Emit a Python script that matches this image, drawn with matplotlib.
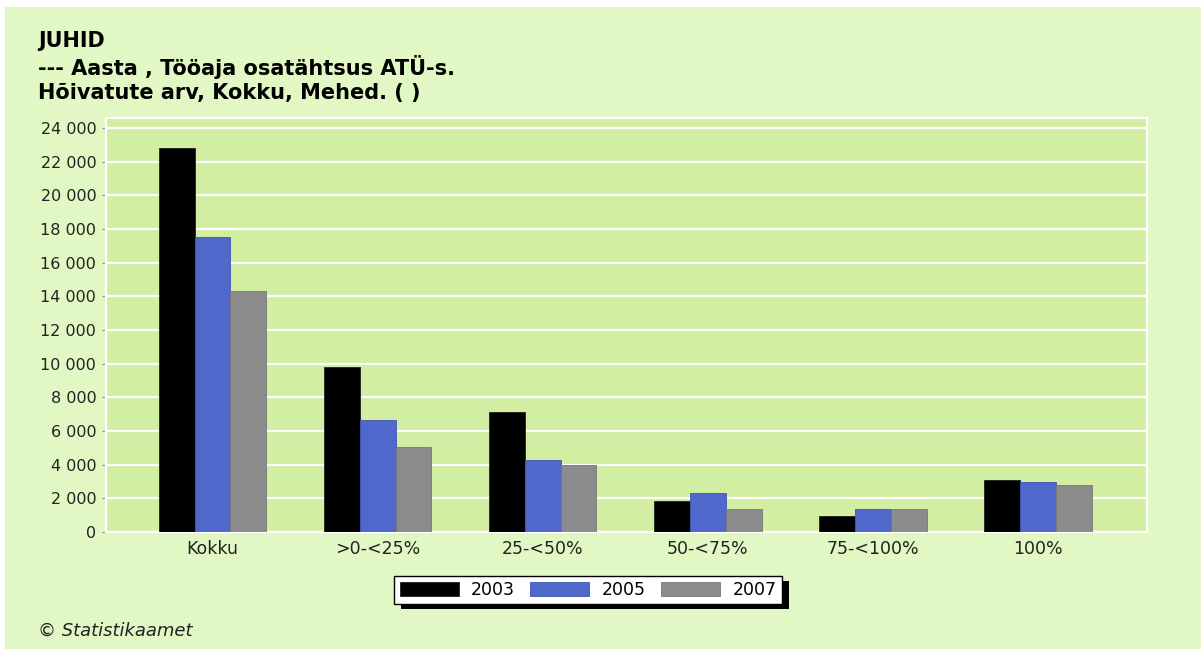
import numpy as np
import matplotlib.pyplot as plt
from matplotlib.patches import Rectangle
from matplotlib.ticker import FuncFormatter

categories = ['Kokku', '>0-<25%', '25-<50%', '50-<75%', '75-<100%', '100%']
years = ['2003', '2005', '2007']
v2003 = [22800, 9800, 7130, 1840, 970, 3090]
v2005 = [17500, 6650, 4280, 2340, 1350, 2990]
v2007 = [14340, 5050, 3980, 1350, 1350, 2810]
yticks = list(range(0, 24001, 2000))

colors = ['#000000', '#5068CC', '#8C8C8C']
edges = ['#202020', '#4055B0', '#777777']

fig = plt.figure(figsize=(12.01, 6.49), dpi=100)
fig.patch.set_facecolor('white')
fig.patches.append(Rectangle((5 / 1201, 0), 1 - 5 / 1201, 1 - 7 / 649,
                             transform=fig.transFigure, facecolor='#E2F8C4',
                             edgecolor='none', zorder=-10))

ax = fig.add_axes([106 / 1201, 1 - 532 / 649, (1147 - 106) / 1201, (532 - 118) / 649])
ax.set_facecolor('#D2EEA2')

x = np.arange(len(categories))
w = 0.217
for i, (vals, lab) in enumerate(zip([v2003, v2005, v2007], years)):
    ax.bar(x + (i - 1) * w, vals, w, color=colors[i], edgecolor=edges[i],
           linewidth=0.6, label=lab, zorder=3)

ax.set_xlim(-0.645, 5.66)
ax.set_ylim(0, 24594)
ax.set_yticks(yticks)
ax.yaxis.set_major_formatter(FuncFormatter(lambda v, p: f'{int(v):,}'.replace(',', ' ')))
ax.grid(axis='y', color='white', linewidth=1.6, zorder=1)
ax.set_xticks(x)
ax.set_xticklabels(categories)
ax.tick_params(axis='x', length=0, pad=6, labelsize=12.5, labelcolor='#222222')
ax.tick_params(axis='y', length=3, width=0.8, color='#888888', pad=4,
               labelsize=11.5, labelcolor='#222222')
for s in ax.spines.values():
    s.set_color('white')
    s.set_linewidth(1.6)

fig.text(38 / 1201, 1 - 31 / 649,
         'JUHID\n--- Aasta , Tööaja osatähtsus ATÜ-s.\nHõivatute arv, Kokku, Mehed. ( )',
         fontsize=15, fontweight='bold', va='top', ha='left', linespacing=1.22)

leg = fig.legend(loc='center', bbox_to_anchor=(588 / 1201, 1 - 590 / 649), ncol=3,
                 fontsize=12.5, frameon=True, fancybox=False, edgecolor='black',
                 framealpha=1, handlelength=3.4, handleheight=0.85, handletextpad=0.7,
                 columnspacing=0.9, borderpad=0.3, borderaxespad=0)
leg.get_frame().set_linewidth(1.0)
leg.get_frame().set_facecolor('white')
leg.set_zorder(5)

# solid drop shadow behind the legend box
fig.canvas.draw()
bb = leg.get_window_extent()
fig.patches.append(Rectangle((bb.x0 + 7, bb.y0 - 5), bb.width, bb.height,
                             transform=None, facecolor='black', edgecolor='none',
                             zorder=4))

fig.text(38 / 1201, 1 - 631 / 649, '© Statistikaamet', fontsize=13,
         style='italic', va='center', ha='left', color='#222222')

fig.savefig('out.png', dpi=100, facecolor=fig.get_facecolor())
